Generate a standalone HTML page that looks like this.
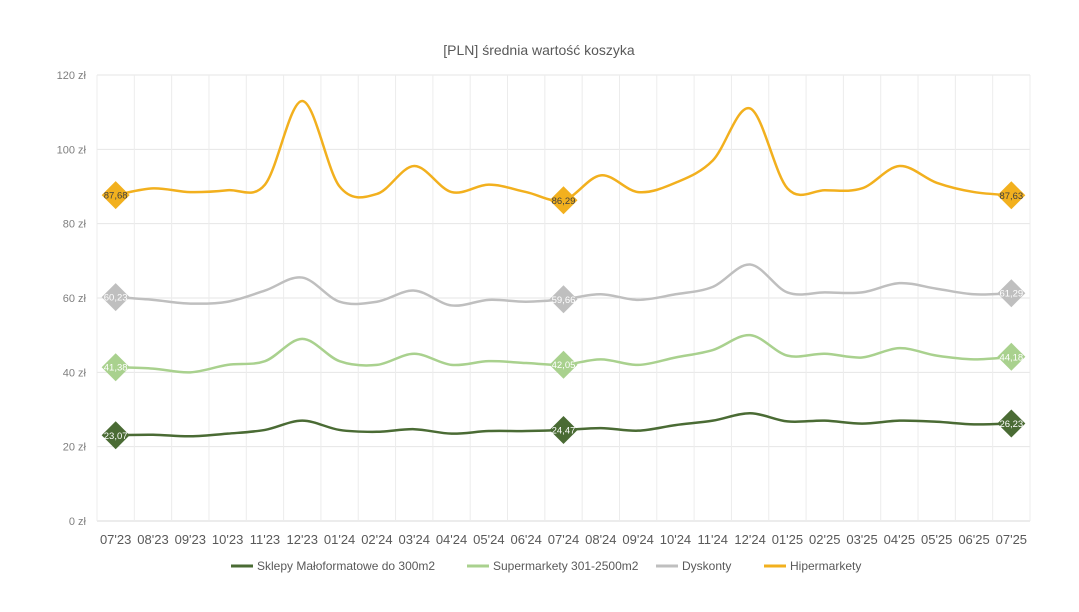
<!DOCTYPE html>
<html><head><meta charset="utf-8"><style>
body{margin:0;background:#fff;font-family:"Liberation Sans",sans-serif}
svg text{font-family:"Liberation Sans",sans-serif}
</style></head><body>
<svg id="c" width="1079" height="607"></svg>
<script>
const categories=["07'23","08'23","09'23","10'23","11'23","12'23","01'24","02'24","03'24","04'24","05'24","06'24","07'24","08'24","09'24","10'24","11'24","12'24","01'25","02'25","03'25","04'25","05'25","06'25","07'25"];
const hiper=[87.68,89.5,88.5,89,90.5,113,90,88,95.5,88.5,90.5,88.5,86.29,93,88.5,91,97,111,89.5,89,89.5,95.5,91,88.5,87.63];
const dysk=[60.23,59.5,58.5,59,62,65.5,59,59,62,58,59.5,59,59.66,61,59.5,61,63,69,61.5,61.5,61.5,64,62.5,61,61.29];
const superm=[41.38,41,40,42,43,49,43,42,45,42,43,42.5,42.05,43.5,42,44,46,50,44.5,45,44,46.5,44.5,43.5,44.18];
const sklepy=[23.07,23.2,22.8,23.5,24.5,27,24.5,24,24.7,23.5,24.2,24.2,24.47,25,24.3,25.8,27,29,26.8,27,26.2,27,26.7,26,26.23];
const yTicks=[0,20,40,60,80,100,120];
const labelIdx=[0,12,24];
const NS="http://www.w3.org/2000/svg";
const svg=document.getElementById('c');
const L=97,R=1030,T=75,B=521;
const step=(R-L)/categories.length;
const x=i=>L+step*(i+0.5);
const y=v=>B-(v/120)*(B-T);
function mk(tag,attrs,parent){const e=document.createElementNS(NS,tag);for(const k in attrs)e.setAttribute(k,attrs[k]);(parent||svg).appendChild(e);return e;}
const t=mk('text',{x:539,y:55,'text-anchor':'middle','font-size':14,fill:'#595959'});


t.textContent='[PLN] średnia wartość koszyka';
yTicks.forEach(v=>{
 const g=mk('line',{x1:L,x2:R,y1:y(v),y2:y(v),stroke:v===0?'#d9d9d9':'#e6e6e6','stroke-width':1});
 
 
 const l=mk('text',{x:86,y:y(v)+4,'text-anchor':'end','font-size':11,fill:'#7f7f7f'});
 
 
 l.textContent=v+' zł';
});
for(let i=0;i<=categories.length;i++){
 const g=mk('line',{x1:L+step*i,x2:L+step*i,y1:T,y2:B,stroke:'#ececec','stroke-width':1});
 
 
}
categories.forEach((c,i)=>{
 const l=mk('text',{x:x(i),y:544,'text-anchor':'middle','font-size':13,fill:'#595959'});
 
 
 l.textContent=c;
});
function path(vals){
 const p=vals.map((v,i)=>[x(i),y(v)]);
 let d='M'+p[0][0]+','+p[0][1];
 for(let i=0;i<p.length-1;i++){
  const p0=p[i-1]||p[i],p1=p[i],p2=p[i+1],p3=p[i+2]||p2;
  const c1=[p1[0]+(p2[0]-p0[0])/6,p1[1]+(p2[1]-p0[1])/6];
  const c2=[p2[0]-(p3[0]-p1[0])/6,p2[1]-(p3[1]-p1[1])/6];
  d+=` C${c1[0]},${c1[1]} ${c2[0]},${c2[1]} ${p2[0]},${p2[1]}`;
 }
 return d;
}
const series=[
 {vals:sklepy,color:'#4a6b34',txt:'#fff',name:'sklepy'},
 {vals:superm,color:'#a9d18e',txt:'#fff',name:'supermarkety'},
 {vals:dysk,color:'#bfbfbf',txt:'#fff',name:'dyskonty'},
 {vals:hiper,color:'#f2b01e',txt:'#404040',name:'hipermarkety'}];
series.forEach(s=>{
 const p=mk('path',{d:path(s.vals),fill:'none',stroke:s.color,'stroke-width':2.5});
 
 
 labelIdx.forEach(i=>{
  const cx=x(i),cy=y(s.vals[i]);
  const m=mk('polygon',{points:`${cx},${cy-14} ${cx+14},${cy} ${cx},${cy+14} ${cx-14},${cy}`,fill:s.color});
  
  
  const l=mk('text',{x:cx,y:cy+3.5,'text-anchor':'middle','font-size':9.5,fill:s.txt});
  
  
  l.textContent=s.vals[i].toFixed(2).replace('.',',');
 });
});
const leg=[['Sklepy Małoformatowe do 300m2','#4a6b34',231],['Supermarkety 301-2500m2','#a9d18e',467],['Dyskonty','#bfbfbf',656],['Hipermarkety','#f2b01e',764]];
leg.forEach(e=>{
 const ln=mk('line',{x1:e[2],x2:e[2]+22,y1:566,y2:566,stroke:e[1],'stroke-width':3});
 
 
 const l=mk('text',{x:e[2]+26,y:570,'font-size':12,fill:'#595959'});
 
 
 l.textContent=e[0];
});
</script>
</body></html>
